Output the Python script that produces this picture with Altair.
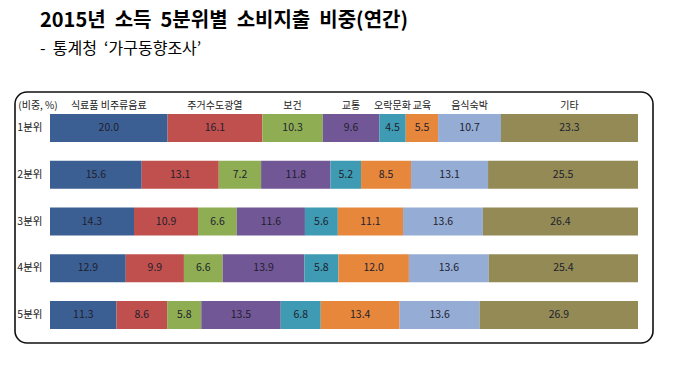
import altair as alt
import pandas as pd

quintiles = ["1분위", "2분위", "3분위", "4분위", "5분위"]
categories = ["식료품 비주류음료", "주거수도광열", "보건", "교통", "오락문화", "교육", "음식숙박", "기타"]
q1 = [20.0, 16.1, 10.3, 9.6, 4.5, 5.5, 10.7, 23.3]
q2 = [15.6, 13.1, 7.2, 11.8, 5.2, 8.5, 13.1, 25.5]
q3 = [14.3, 10.9, 6.6, 11.6, 5.6, 11.1, 13.6, 26.4]
q4 = [12.9, 9.9, 6.6, 13.9, 5.8, 12.0, 13.6, 25.4]
q5 = [11.3, 8.6, 5.8, 13.5, 6.8, 13.4, 13.6, 26.9]
colors = ["#3c5f93", "#c0504d", "#8fae53", "#725796", "#3f9bb3", "#e6873c", "#95acd4", "#938a55"]

rows = []
for q, vals in zip(quintiles, [q1, q2, q3, q4, q5]):
    for i, (c, v) in enumerate(zip(categories, vals)):
        rows.append({"quintile": q, "category": c, "value": v, "order": i})
df = pd.DataFrame(rows)

FONT = "Noto Sans CJK KR"
SP = "\u00a0 "

y_enc = alt.Y("quintile:N", sort=quintiles,
              scale=alt.Scale(paddingInner=0.4, paddingOuter=0),
              axis=alt.Axis(title=None, ticks=False, domain=False, labelPadding=8,
                            labelFontSize=10.5, labelColor="#222", labelFont=FONT))

base = alt.Chart(df)

bars = base.mark_bar().encode(
    x=alt.X("value:Q", stack="normalize",
            scale=alt.Scale(domain=[0, 1], nice=False), axis=None),
    y=y_enc,
    color=alt.Color("category:N", sort=categories,
                    scale=alt.Scale(domain=categories, range=colors), legend=None),
    order=alt.Order("order:Q"),
)

stacked = base.transform_stack(
    stack="value", groupby=["quintile"], as_=["x0", "x1"],
    sort=[alt.SortField("order")], offset="normalize"
).transform_calculate(mid="(datum.x0 + datum.x1) / 2", lbl="format(datum.value, '.1f')")

labels = stacked.mark_text(fontSize=10.5, font=FONT, color="#1e1e2e").encode(
    x=alt.X("mid:Q", scale=alt.Scale(domain=[0, 1], nice=False), axis=None),
    y=y_enc,
    text="lbl:N",
)

headers = stacked.transform_filter(alt.datum.quintile == "1분위").mark_text(
    fontSize=10, font=FONT, color="#222", baseline="middle"
).encode(
    x=alt.X("mid:Q", scale=alt.Scale(domain=[0, 1], nice=False), axis=None),
    y=alt.value(-8),
    text="category:N",
)

unit = alt.Chart(pd.DataFrame({"t": ["(비중, %)"]})).mark_text(
    fontSize=10, font=FONT, color="#222", baseline="middle"
).encode(x=alt.value(-12), y=alt.value(-8), text="t:N")

frame = alt.Chart(pd.DataFrame({"a": [0]})).mark_rect(
    fill="white", fillOpacity=0, stroke="#111", strokeWidth=1.6, cornerRadius=12
).encode(x=alt.value(-35), x2=alt.value(603), y=alt.value(-22), y2=alt.value(229))

title_text = SP.join(["2015년", "소득", "5분위별", "소비지출", "비중(연간)"])
subtitle_text = SP.join(["-", "통계청", "‘가구동향조사’"])

chart = alt.layer(frame, bars, labels, headers, unit).properties(
    width=588, height=215,
    padding={"left": 42, "top": 106, "right": 23, "bottom": 30},
    autosize=alt.AutoSizeParams(type="none"),
    title=alt.TitleParams(
        text=title_text,
        subtitle=subtitle_text,
        anchor="start", frame="group", dx=-10, offset=34,
        font=FONT, fontSize=20, fontWeight="bold", color="#000",
        subtitleFont=FONT, subtitleFontSize=16, subtitleColor="#000",
        subtitlePadding=10,
    ),
).configure_view(stroke=None)

chart.save("out.html", embed_options={"renderer": "svg", "actions": False})
